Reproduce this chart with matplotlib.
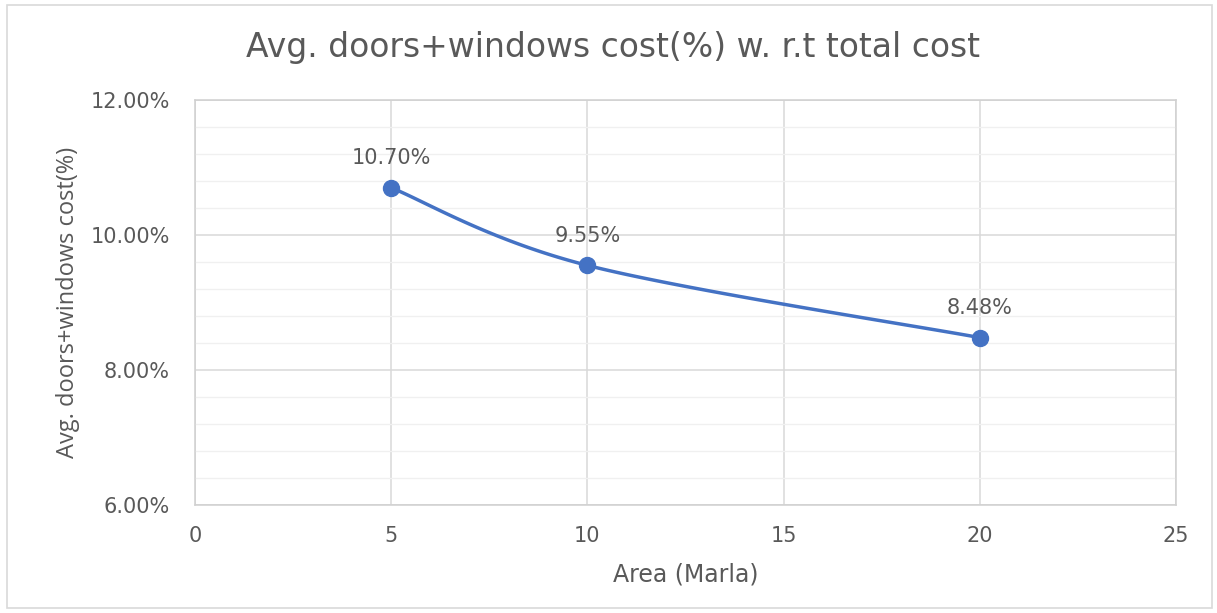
import numpy as np
import matplotlib
matplotlib.use("Agg")
import matplotlib.pyplot as plt
from matplotlib.patches import Rectangle

area = [5, 10, 20]
cost_pct = [10.70, 9.55, 8.48]
labels = ["10.70%", "9.55%", "8.48%"]

title = "Avg. doors+windows cost(%) w. r.t total cost"
xlabel = "Area (Marla)"
ylabel = "Avg. doors+windows cost(%)"

plt.rcParams['font.family'] = ['DejaVu Sans']
TEXT = '#595959'
LINE = '#4472C4'


def smooth(xs, ys, n=60, tension=0.5):
    """Cardinal-spline smoothing through the given points."""
    xs = np.asarray(xs, float)
    ys = np.asarray(ys, float)
    px = np.concatenate([[xs[0]], xs, [xs[-1]]])
    py = np.concatenate([[ys[0]], ys, [ys[-1]]])
    outx, outy = [], []
    for i in range(1, len(px) - 2):
        p0 = np.array([px[i - 1], py[i - 1]])
        p1 = np.array([px[i], py[i]])
        p2 = np.array([px[i + 1], py[i + 1]])
        p3 = np.array([px[i + 2], py[i + 2]])
        m1 = tension * (p2 - p0)
        m2 = tension * (p3 - p1)
        t = np.linspace(0, 1, n)[:, None]
        h00 = 2 * t**3 - 3 * t**2 + 1
        h10 = t**3 - 2 * t**2 + t
        h01 = -2 * t**3 + 3 * t**2
        h11 = t**3 - t**2
        pts = h00 * p1 + h10 * m1 + h01 * p2 + h11 * m2
        outx.extend(pts[:, 0])
        outy.extend(pts[:, 1])
    return np.array(outx), np.array(outy)


fig = plt.figure(figsize=(12.17, 6.13), dpi=100)
fig.patch.set_facecolor('white')
fig.patches.append(Rectangle((7 / 1217, 5 / 613), 1 - 12 / 1217, 1 - 10 / 613,
                             transform=fig.transFigure, fill=False,
                             edgecolor='#D9D9D9', linewidth=1.2))

ax = fig.add_axes([195 / 1217, 1 - 505 / 613, (1176 - 195) / 1217, (505 - 100) / 613])

ax.set_xlim(0, 25)
ax.set_ylim(6, 12)
ax.set_xticks(np.arange(0, 26, 5))
ax.set_yticks(np.arange(6, 12.01, 2))
ax.set_yticks(np.arange(6, 12.01, 0.4), minor=True)
ax.set_yticklabels([f"{v:.2f}%" for v in np.arange(6, 12.01, 2)])

ax.grid(True, which='major', color='#D9D9D9', linewidth=1.1)
ax.grid(True, which='minor', axis='y', color='#F0F0F0', linewidth=1.0)
ax.set_axisbelow(True)
for s in ax.spines.values():
    s.set_color('#D0D0D0')
    s.set_linewidth(1.1)
ax.tick_params(which='both', length=0, colors=TEXT, labelsize=15)
ax.tick_params(axis='x', pad=15)
ax.tick_params(axis='y', pad=18)

sx, sy = smooth(area, cost_pct)
ax.plot(sx, sy, color=LINE, linewidth=2.5, solid_capstyle='round', zorder=3)
ax.plot(area, cost_pct, 'o', color=LINE, markersize=11.5, zorder=4)

for x, y, lab in zip(area, cost_pct, labels):
    ax.annotate(lab, (x, y), xytext=(0, 14), textcoords='offset points',
                ha='center', va='bottom', color=TEXT, fontsize=15)

ax.set_xlabel(xlabel, color=TEXT, fontsize=17, labelpad=12)
ax.set_ylabel(ylabel, color=TEXT, fontsize=17, labelpad=8,
              family='Open Sans')
fig.text(613 / 1217, 1 - 48 / 613, title, ha='center', va='center',
         color=TEXT, fontsize=23.8)

fig.savefig('out.png', dpi=100, facecolor='white')
